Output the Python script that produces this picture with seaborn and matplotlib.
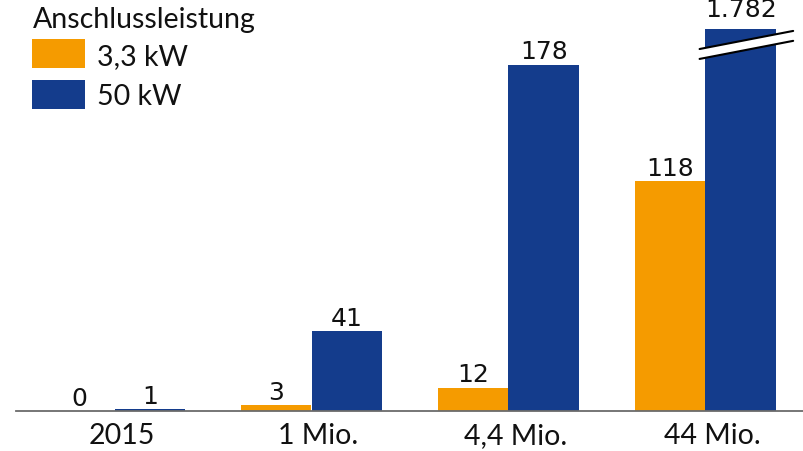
import matplotlib
matplotlib.use("Agg")
import matplotlib.pyplot as plt
from matplotlib.patches import Polygon, Rectangle
from matplotlib.lines import Line2D
from matplotlib.transforms import ScaledTranslation
import seaborn as sns
import pandas as pd

# Data
categories = ["2015", "1 Mio.", "4,4 Mio.", "44 Mio."]
series_names = ["3,3 kW", "50 kW"]
values_3_3kw = [0, 3, 12, 118]
values_50kw = [1, 41, 178, 1782]
value_labels_3_3kw = ["0", "3", "12", "118"]
value_labels_50kw = ["1", "41", "178", "1.782"]
legend_title = "Anschlussleistung"

colors = ["#F59B00", "#143C8C"]
axis_cap = 196.5  # bars above this value are drawn broken

sns.set_theme(style="white")
plt.rcParams["font.family"] = ["Lato", "DejaVu Sans"]

rows = []
for cat, v in zip(categories, values_3_3kw):
    rows.append({"Kategorie": cat, "Leistung": series_names[0], "Wert": v})
for cat, v in zip(categories, values_50kw):
    rows.append({"Kategorie": cat, "Leistung": series_names[1], "Wert": v})
df = pd.DataFrame(rows)
df["Anzeige"] = df["Wert"].clip(upper=axis_cap)

W, H = 804, 451
fig = plt.figure(figsize=(W / 100, H / 100), dpi=100)
ax = fig.add_axes([16 / W, 40 / H, 788 / W, 411 / H])

sns.barplot(data=df, x="Kategorie", y="Anzeige", hue="Leistung",
            order=categories, hue_order=series_names, palette=colors,
            width=0.72, saturation=1, linewidth=0, legend=False, ax=ax)

ax.set_xlim(-0.5, 3.5)
ax.set_ylim(0, 211.3)
ax.set_xlabel("")
ax.set_ylabel("")
ax.set_yticks([])
for side in ["left", "right", "top"]:
    ax.spines[side].set_visible(False)
ax.spines["bottom"].set_color("#6b6b6b")
ax.spines["bottom"].set_linewidth(1.3)
ax.tick_params(axis="x", length=0, pad=9, labelsize=20.5, colors="#111111")
shift = ScaledTranslation(7 / 100, 0, fig.dpi_scale_trans)
for lbl in ax.get_xticklabels():
    lbl.set_transform(lbl.get_transform() + shift)

# value labels above bars
label_sets = [value_labels_3_3kw, value_labels_50kw]
value_sets = [values_3_3kw, values_50kw]
for container, labels, vals in zip(ax.containers, label_sets, value_sets):
    for bar, lab, v in zip(container, labels, vals):
        cx = bar.get_x() + bar.get_width() / 2
        top = bar.get_height()
        off = 8.6 if v > axis_cap else 3.8
        ax.annotate(lab, (cx, top), xytext=(0, off), textcoords="offset points",
                    ha="center", va="baseline", fontsize=18,
                    family="DejaVu Sans", color="#111111", clip_on=False)

# break marks on the truncated bar
for bar, v in zip(ax.containers[1], values_50kw):
    if v > axis_cap:
        x0 = bar.get_x() - 0.03
        x1 = bar.get_x() + bar.get_width() + 0.085
        yc = axis_cap - 8.3
        slope = 9.3
        gap = 5.1
        lo0, lo1 = yc - gap / 2 - slope / 2, yc - gap / 2 + slope / 2
        hi0, hi1 = lo0 + gap, lo1 + gap
        ax.add_patch(Polygon([(x0, lo0), (x1, lo1), (x1, hi1), (x0, hi0)],
                             closed=True, facecolor="white", edgecolor="none",
                             zorder=5, clip_on=False))
        ax.add_line(Line2D([x0, x1], [lo0, lo1], color="black", lw=1.5,
                           zorder=6, clip_on=False))
        ax.add_line(Line2D([x0, x1], [hi0, hi1], color="black", lw=1.5,
                           zorder=6, clip_on=False))

# legend: title, colour swatches and labels (pixel positions from top-left)
def fx(px):
    return px / W


def fy(py):
    return 1 - py / H


fig.text(fx(33), fy(28), legend_title, fontsize=20.5, color="#111111",
         ha="left", va="baseline")
swatch_tops = [39, 80]
label_baselines = [65, 105]
for col, name, top, base in zip(colors, series_names, swatch_tops, label_baselines):
    fig.add_artist(Rectangle((fx(32), fy(top + 29)), 53 / W, 29 / H,
                             transform=fig.transFigure, facecolor=col,
                             edgecolor="none"))
    fig.text(fx(97), fy(base), name, fontsize=20.5, color="#111111",
             ha="left", va="baseline")

fig.savefig("out.png", dpi=100)
